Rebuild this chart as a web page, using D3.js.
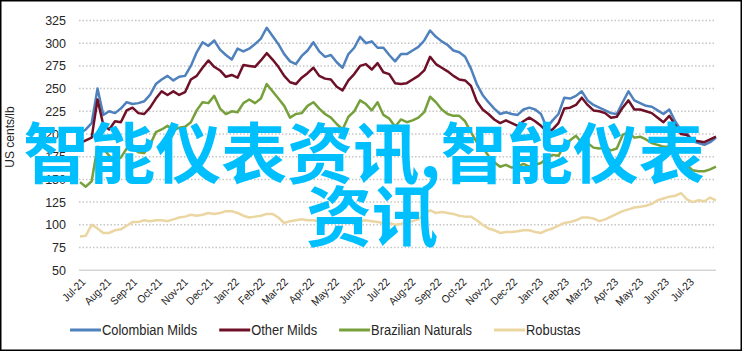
<!DOCTYPE html>
<html>
<head>
<meta charset="utf-8">
<script src="https://cdn.jsdelivr.net/npm/d3@7"></script>
<style>
  html, body { margin: 0; padding: 0; background: #fff; }
  svg { display: block; }
</style>
</head>
<body>
<svg id="chart"></svg>
<script>
// weekly prices, US cents/lb, Jul-2021 .. Jul-2023
const startDate = new Date(2021, 6, 1);
const colombianMilds = [201,205,212,250,221,225,223,228,235,233,234,236,243,255,260,264,259,263,264,275,
  290,301,297,303,293,287,282,294,291,294,299,305,317,308,299,288,280,277,286,292,
  301,291,285,287,279,273,288,295,307,300,302,295,295,287,280,288,288,292,296,303,
  314,307,302,298,292,290,285,272,255,243,235,228,222,224,222,221,227,229,227,222,
  207,215,222,240,239,242,247,237,232,229,226,223,222,235,247,237,234,231,230,226,
  222,227,214,204,201,192,190,188,191,196];
const otherMilds = [190,193,196,238,210,205,214,213,226,229,223,222,229,239,247,243,247,243,246,260,
  264,273,281,274,270,263,265,262,276,275,274,281,289,282,274,264,257,255,262,267,
  273,264,261,260,252,248,259,266,275,277,271,278,268,266,256,255,256,260,264,270,
  285,277,273,269,264,260,259,253,236,227,222,216,212,215,212,209,214,218,214,209,
  203,205,212,228,229,232,240,232,226,225,223,218,219,229,237,227,227,225,223,218,
  213,220,210,200,199,193,192,191,194,197];
const brazilianNaturals = [147,142,148,186,184,176,171,174,184,184,180,179,188,202,205,209,204,207,208,213,
  226,235,234,242,228,222,225,224,234,238,234,239,255,247,239,231,218,222,223,231,
  235,228,222,218,211,205,219,225,237,233,226,235,221,217,208,216,213,215,218,224,
  241,235,227,222,220,220,214,202,191,185,176,169,164,166,163,164,167,164,166,168,
  173,177,176,188,193,198,190,190,185,184,185,182,184,199,202,196,197,194,190,188,
  186,186,180,170,166,160,159,159,161,164];
const robustas = [87,88,100,96,91,91,94,95,99,103,103,105,104,105,105,104,106,108,109,111,
  110,111,113,112,113,115,115,113,110,108,109,110,112,112,108,102,104,105,106,105,
  105,104,105,106,105,104,104,103,104,105,104,103,102,102,100,101,103,104,106,112,
  116,113,114,113,112,110,109,109,105,100,96,94,91,92,92,93,94,94,92,91,
  94,96,99,102,103,105,108,108,107,104,106,109,112,115,117,119,120,121,123,127,
  129,131,132,135,128,125,127,126,130,127];
const seriesNames = ["Colombian Milds", "Other Milds", "Brazilian Naturals", "Robustas"];
const seriesColors = ["#4F81BD", "#6E1027", "#76A03B", "#EBD6A2"];
const yTicks = [50, 75, 100, 125, 150, 175, 200, 225, 250, 275, 300, 325];
const yTitle = "US cents/lb";
const overlayLines = ["智能仪表资讯,智能仪表", "资讯"];

const W = 743, H = 352;
const font = "'Liberation Sans', Arial, sans-serif";

const dates = colombianMilds.map((d, i) => d3.timeDay.offset(startDate, 7 * i));
const allSeries = [colombianMilds, otherMilds, brazilianNaturals, robustas];

const svg = d3.select("#chart").attr("width", W).attr("height", H);

// outer frame
svg.append("rect")
  .attr("x", 0.75).attr("y", 0.75)
  .attr("width", W - 2.5).attr("height", H - 2.5)
  .attr("fill", "#fff").attr("stroke", "#000").attr("stroke-width", 1.5);

const x = d3.scaleTime().domain([dates[0], dates[dates.length - 1]]).range([80, 716]);
const y = d3.scaleLinear().domain([50, 325]).range([270.2, 20.5]);

// dotted gridlines
svg.append("g")
  .selectAll("line")
  .data(yTicks.filter(t => t > 50))
  .enter()
  .append("line")
  .attr("x1", 79).attr("x2", 716)
  .attr("y1", d => y(d)).attr("y2", d => y(d))
  .attr("stroke", "#c6c6c6")
  .attr("stroke-width", 1.5)
  .attr("stroke-dasharray", "1.5,2");

// baseline
svg.append("line")
  .attr("x1", 79).attr("x2", 716)
  .attr("y1", y(50)).attr("y2", y(50))
  .attr("stroke", "#d4d4d4").attr("stroke-width", 1.5);

// y axis labels
const yAxis = svg.append("g")
  .attr("transform", "translate(66,0)")
  .call(d3.axisLeft(y).tickValues(yTicks).tickSize(0).tickPadding(0));
yAxis.select(".domain").remove();
yAxis.selectAll("text")
  .style("font-family", font).style("font-size", "12.5px").attr("fill", "#262626");

svg.append("text")
  .attr("transform", "translate(14,137) rotate(-90)")
  .attr("text-anchor", "middle")
  .style("font-family", font).style("font-size", "12px")
  .attr("fill", "#262626")
  .text(yTitle);

// x axis month labels
const months = d3.timeMonth.range(new Date(2021, 6, 1), new Date(2023, 7, 1));
const xAxis = svg.append("g")
  .attr("transform", "translate(0,276)")
  .call(d3.axisBottom(x).tickValues(months).tickFormat(d3.timeFormat("%b-%y")).tickSize(0).tickPadding(0));
xAxis.select(".domain").remove();
xAxis.selectAll("text")
  .attr("text-anchor", "end")
  .attr("dy", "0.35em")
  .attr("transform", "translate(3,4) rotate(-45) scale(0.92,1)")
  .style("font-family", font).style("font-size", "11px").attr("fill", "#262626");

// series lines
const line = d3.line()
  .x((d, i) => x(dates[i]))
  .y(d => y(d))
  .curve(d3.curveLinear);

svg.append("g")
  .selectAll("path")
  .data(allSeries)
  .enter()
  .append("path")
  .attr("d", d => line(d))
  .attr("fill", "none")
  .attr("stroke", (d, i) => seriesColors[i])
  .attr("stroke-width", 2.5)
  .attr("stroke-linejoin", "round");

// legend (narrow text, like the original condensed font)
const squeeze = 0.86;
const legend = svg.append("g").attr("transform", "translate(70,330)");
let lx = 0;
seriesNames.forEach((name, i) => {
  const g = legend.append("g").attr("transform", `translate(${lx},0)`);
  g.append("line")
    .attr("x1", 0).attr("x2", 31).attr("y1", 0).attr("y2", 0)
    .attr("stroke", seriesColors[i]).attr("stroke-width", 3);
  const t = g.append("text")
    .attr("transform", `translate(32,0) scale(${squeeze},1)`)
    .attr("dy", "0.35em")
    .style("font-family", font).style("font-size", "15px")
    .attr("fill", "#262626")
    .text(name);
  lx += 32 + t.node().getComputedTextLength() * squeeze + 22;
});

// watermark text over the chart
svg.append("g")
  .selectAll("text")
  .data(overlayLines)
  .enter()
  .append("text")
  .attr("x", (d, i) => (i === 0 ? 364 : 372))
  .attr("y", (d, i) => 178 + i * 63)
  .attr("text-anchor", "middle")
  .style("font-family", "'Noto Sans CJK SC', sans-serif")
  .style("font-size", "66px")
  .style("font-weight", "bold")
  .attr("fill", "#00BFFF")
  .text(d => d);
</script>
</body>
</html>
